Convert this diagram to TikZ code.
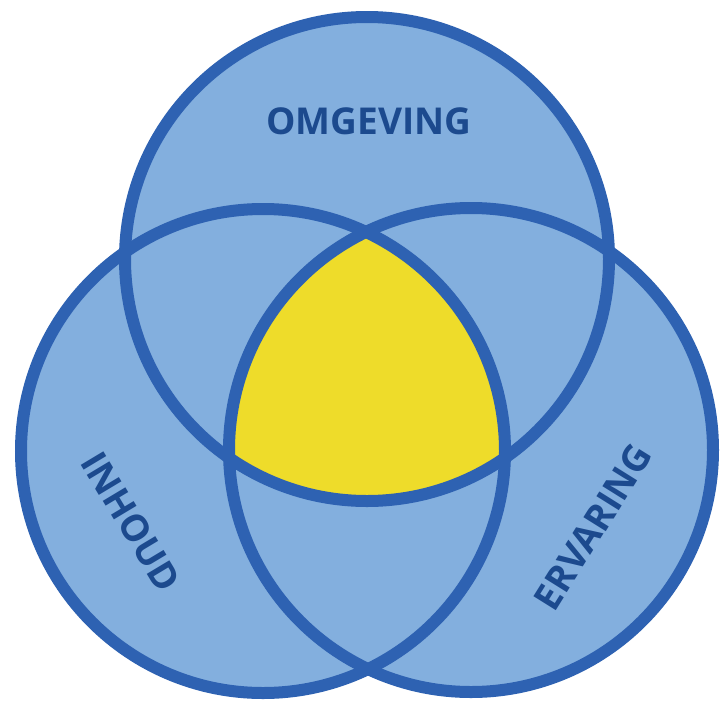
\documentclass[tikz,border=0pt]{standalone}
\usepackage{fontspec}
\setmainfont{Open Sans}
\definecolor{ringfill}{RGB}{131,175,222}
\definecolor{ringline}{RGB}{46,98,178}
\definecolor{labeltext}{RGB}{28,74,142}
\definecolor{core}{RGB}{238,220,42}
\begin{document}
\begin{tikzpicture}[x=1pt,y=-1pt,
  ring/.style={draw=ringline,line width=12pt},
  label/.style={text=labeltext,font=\fontsize{37}{40}\selectfont\bfseries,inner sep=0pt}]
\useasboundingbox (0,0) rectangle (721,702);
\coordinate (ctop) at (367,259);
\coordinate (cleft) at (263,451);
\coordinate (cright) at (471,450);
\def\rr{242}
% light blue discs
\fill[ringfill] (ctop) circle[radius=\rr];
\fill[ringfill] (cleft) circle[radius=\rr];
\fill[ringfill] (cright) circle[radius=\rr];
% common region of all three
\begin{scope}
  \clip (ctop) circle[radius=\rr];
  \clip (cleft) circle[radius=\rr];
  \fill[core] (cright) circle[radius=\rr];
\end{scope}
% outlines
\draw[ring] (ctop) circle[radius=\rr];
\draw[ring] (cleft) circle[radius=\rr];
\draw[ring] (cright) circle[radius=\rr];
% labels
\node[label] (omg) at (369,121) {OMGEVING};
\node[label,rotate=-59] (inh) at (131,522) {INHOUD};
\node[label,rotate=58] (erv) at (593,527) {ERVARING};
\end{tikzpicture}
\end{document}
